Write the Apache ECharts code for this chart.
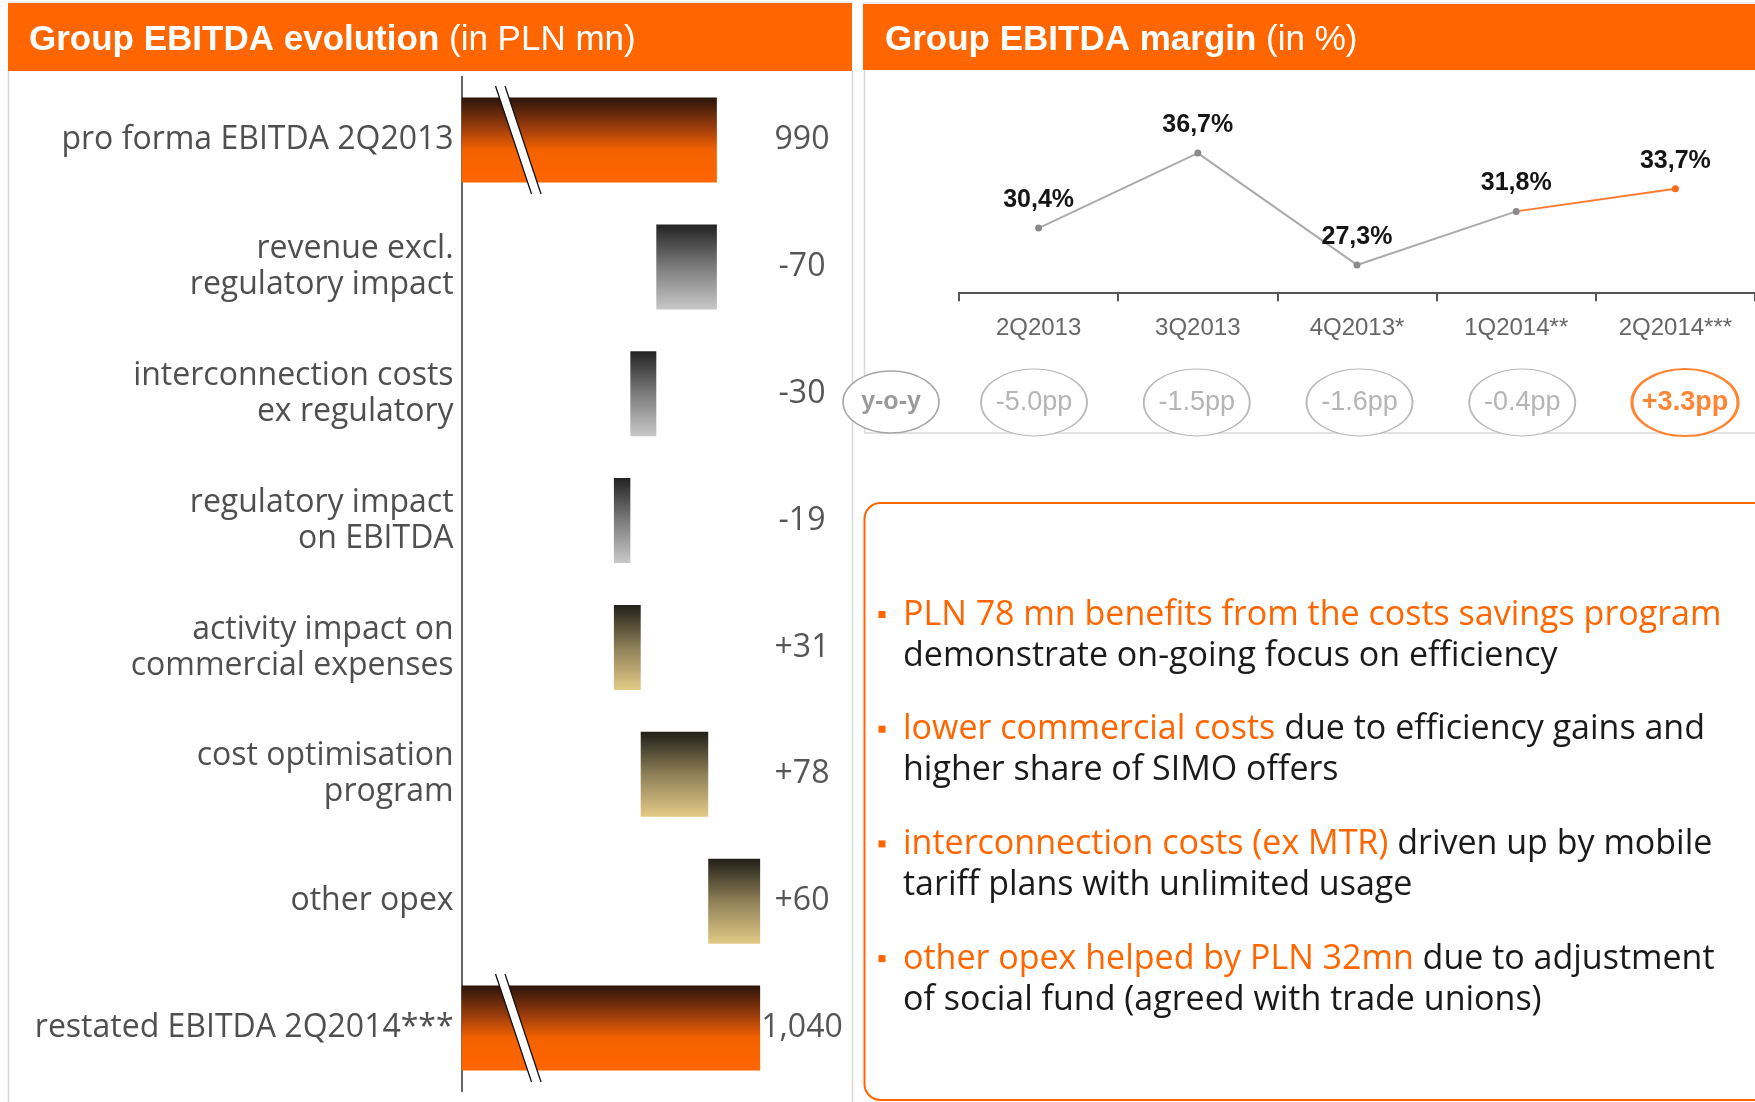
<!DOCTYPE html>
<html>
<head>
<meta charset="utf-8">
<script src="https://cdn.jsdelivr.net/npm/echarts@6/dist/echarts.min.js"></script>
<style>
  html, body { margin: 0; padding: 0; background: #fff; }
  #main { width: 1755px; height: 1102px; }
</style>
</head>
<body>
<div id="main"></div>
<script>
// waterfall data (PLN mn)
var steps = ['pro forma EBITDA 2Q2013', 'revenue excl.\nregulatory impact', 'interconnection costs\nex regulatory',
  'regulatory impact\non EBITDA', 'activity impact on\ncommercial expenses', 'cost optimisation\nprogram',
  'other opex', 'restated EBITDA 2Q2014***'];
var stepValues = [990, -70, -30, -19, 31, 78, 60, 1040];
var stepLabels = ['990', '-70', '-30', '-19', '+31', '+78', '+60', '1,040'];
var isTotal = [true, false, false, false, false, false, false, true];

// margin data (%)
var quarters = ['2Q2013', '3Q2013', '4Q2013*', '1Q2014**', '2Q2014***'];
var margins = [30.4, 36.7, 27.3, 31.8, 33.7];
var yoy = [-5.0, -1.5, -1.6, -0.4, 3.3];

var notes = [
  ['PLN 78 mn benefits from the costs savings program', '', 'demonstrate on-going focus on efficiency'],
  ['lower commercial costs', ' due to efficiency gains and', 'higher share of SIMO offers'],
  ['interconnection costs (ex MTR)', ' driven up by mobile', 'tariff plans with unlimited usage'],
  ['other opex helped by PLN 32mn', ' due to adjustment', 'of social fund (agreed with trade unions)']
];

var ORANGE = '#ff6600';
var breakAt = 755; // where the axis break is drawn on the total bars
var lastHighlight = 3; // orange segment starts here

function grad(stops) {
  return new echarts.graphic.LinearGradient(0, 0, 0, 1, stops.map(function (s) {
    return { offset: s[0], color: s[1] };
  }));
}
var totalGrad = [[0, '#2a1409'], [0.35, '#9a3c0c'], [0.62, '#f46200'], [1, '#ff6600']];
var negGrad = [[0, '#222222'], [0.5, '#7c7c7c'], [1, '#c8c8c8']];
var posGrad = [[0, '#211f18'], [0.5, '#8e7f57'], [1, '#e3ca86']];

// build waterfall stacks
var base = [], size = [], running = 0;
stepValues.forEach(function (v, i) {
  if (isTotal[i]) {
    base.push(0); size.push(v); running = v;
  } else {
    var next = running + v;
    base.push(Math.min(running, next));
    size.push(Math.abs(v));
    running = next;
  }
});

var chart = echarts.init(document.getElementById('main'), null, { renderer: 'canvas' });

var titleRich = {
  b: { fontSize: 35, fontWeight: 'bold', fill: '#fff', fontFamily: 'Liberation Sans' },
  n: { fontSize: 35, fill: '#fff', fontFamily: 'Liberation Sans' }
};

var graphics = [
  // headers
  { type: 'rect', shape: { x: 8, y: 3, width: 844, height: 68 }, style: { fill: ORANGE }, z: 1 },
  { type: 'rect', shape: { x: 863, y: 4, width: 900, height: 66 }, style: { fill: ORANGE }, z: 1 },
  { type: 'line', shape: { x1: 8, y1: 2, x2: 852, y2: 2 }, style: { stroke: '#dddddd', lineWidth: 1 } },
  { type: 'line', shape: { x1: 863, y1: 3, x2: 1755, y2: 3 }, style: { stroke: '#dddddd', lineWidth: 1 } },
  {
    type: 'text', x: 29, y: 40, z: 2,
    style: { text: '{b|Group EBITDA evolution}{n| (in PLN mn)}', verticalAlign: 'middle', rich: titleRich }
  },
  {
    type: 'text', x: 885, y: 40, z: 2,
    style: { text: '{b|Group EBITDA margin}{n| (in %)}', verticalAlign: 'middle', rich: titleRich }
  },
  // panel borders
  { type: 'line', shape: { x1: 8.5, y1: 71, x2: 8.5, y2: 1102 }, style: { stroke: '#d9d9d9', lineWidth: 1.5 } },
  { type: 'line', shape: { x1: 852.5, y1: 71, x2: 852.5, y2: 1102 }, style: { stroke: '#d9d9d9', lineWidth: 1.5 } },
  { type: 'line', shape: { x1: 864.5, y1: 70, x2: 864.5, y2: 433 }, style: { stroke: '#d9d9d9', lineWidth: 1.5 } },
  { type: 'line', shape: { x1: 864, y1: 433, x2: 1755, y2: 433 }, style: { stroke: '#d9d9d9', lineWidth: 1.5 } },
  // y-o-y marker
  { type: 'ellipse', shape: { cx: 891, cy: 402, rx: 48, ry: 31 }, style: { fill: '#fff', stroke: '#a6a6a6', lineWidth: 1.5 }, z: 3 },
  {
    type: 'text', x: 891, y: 402, z: 4,
    style: { text: 'y-o-y', fontSize: 25, fontWeight: 'bold', fill: '#9a9a9a', fontFamily: 'Liberation Sans', align: 'center', verticalAlign: 'middle' }
  },
  // comment box
  { type: 'rect', shape: { x: 864.5, y: 503, width: 920, height: 597, r: 16 }, style: { fill: 'none', stroke: ORANGE, lineWidth: 2 } }
];

notes.forEach(function (n, i) {
  var cy = 615 + i * 114.7;
  graphics.push({ type: 'rect', shape: { x: 878.5, y: cy - 4, width: 7, height: 7 }, style: { fill: ORANGE } });
  var txt = '{o|' + n[0] + '}' + (n[1] ? '{k|' + n[1] + '}' : '') + '\n{k|' + n[2] + '}';
  graphics.push({
    type: 'text', x: 903, y: cy - 20.5,
    style: {
      text: txt, verticalAlign: 'top',
      rich: {
        o: { fontSize: 34, fill: ORANGE, fontFamily: 'Open Sans', lineHeight: 41 },
        k: { fontSize: 34, fill: '#1a1a1a', fontFamily: 'Open Sans', lineHeight: 41 }
      }
    }
  });
});

function pctLabel(p) { return p.value.toFixed(1).replace('.', ',') + '%'; }

var option = {
  animation: false,
  backgroundColor: '#ffffff',
  grid: [
    { left: 461.6, right: 1755 - 851, top: 76.6, bottom: 1102 - 1091.4, containLabel: false, outerBoundsMode: 'none' },
    { left: 959, right: 0, top: 113.8, bottom: 1102 - 292.3, containLabel: false, outerBoundsMode: 'none' },
    { left: 1034, right: 70, top: 369, height: 67, containLabel: false, outerBoundsMode: 'none' }
  ],
  xAxis: [
    { type: 'value', gridIndex: 0, min: 695, max: 1145, show: false },
    {
      type: 'category', gridIndex: 1, data: quarters, boundaryGap: true,
      axisLine: { lineStyle: { color: '#555', width: 2 } },
      axisTick: { show: true, length: 9, lineStyle: { color: '#555', width: 2 } },
      axisLabel: { margin: 24, fontSize: 24, color: '#666', fontFamily: 'Liberation Sans' },
      splitLine: { show: false }
    },
    { type: 'category', gridIndex: 2, data: quarters, boundaryGap: false, show: false }
  ],
  yAxis: [
    {
      type: 'category', gridIndex: 0, inverse: true, data: steps,
      axisLine: { lineStyle: { color: '#333', width: 1.5 } },
      axisTick: { show: false },
      axisLabel: { margin: 8, fontSize: 32, lineHeight: 36, color: '#4f4f4f', fontFamily: 'Open Sans', align: 'right' },
      splitLine: { show: false }
    },
    {
      type: 'category', gridIndex: 0, inverse: true, position: 'right', data: stepLabels,
      axisLine: { show: false }, axisTick: { show: false },
      axisLabel: { margin: -49, align: 'center', fontSize: 32, color: '#555', fontFamily: 'Open Sans' },
      splitLine: { show: false }
    },
    { type: 'value', gridIndex: 1, min: 25, max: 40, show: false },
    { type: 'value', gridIndex: 2, min: -1, max: 1, show: false }
  ],
  series: [
    {
      type: 'bar', xAxisIndex: 0, yAxisIndex: 0, stack: 'wf', barWidth: 85, silent: true,
      itemStyle: { color: 'transparent' },
      data: base
    },
    {
      type: 'bar', xAxisIndex: 0, yAxisIndex: 0, stack: 'wf', barWidth: 85, silent: true,
      data: size.map(function (v, i) {
        var g = isTotal[i] ? totalGrad : (stepValues[i] < 0 ? negGrad : posGrad);
        return { value: v, itemStyle: { color: grad(g) } };
      })
    },
    {
      type: 'custom', xAxisIndex: 0, yAxisIndex: 0, z: 5, silent: true,
      data: isTotal.map(function (t, i) { return t ? [breakAt, i] : null; }).filter(Boolean),
      renderItem: function (params, api) {
        var p = api.coord([api.value(0), api.value(1)]);
        var h = 54, dx = 18, gap = 9.5;
        return {
          type: 'group',
          children: [
            { type: 'polygon', shape: { points: [[p[0] - dx, p[1] - h], [p[0] - dx + gap, p[1] - h], [p[0] + dx + gap, p[1] + h], [p[0] + dx, p[1] + h]] }, style: { fill: '#fff' } },
            { type: 'line', shape: { x1: p[0] - dx, y1: p[1] - h, x2: p[0] + dx, y2: p[1] + h }, style: { stroke: '#111', lineWidth: 1.3 } },
            { type: 'line', shape: { x1: p[0] - dx + gap, y1: p[1] - h, x2: p[0] + dx + gap, y2: p[1] + h }, style: { stroke: '#111', lineWidth: 1.3 } }
          ]
        };
      }
    },
    {
      type: 'line', xAxisIndex: 1, yAxisIndex: 2, z: 4, silent: true,
      data: margins.map(function (v, i) { return i <= lastHighlight ? v : '-'; }),
      lineStyle: { color: '#ababab', width: 2 },
      symbol: 'circle', symbolSize: 7,
      itemStyle: { color: '#8a8a8a' },
      label: {
        show: true, position: 'top', distance: 12, fontSize: 25, fontWeight: 'bold', color: '#151515', fontFamily: 'Liberation Sans',
        formatter: pctLabel
      }
    },
    {
      type: 'line', xAxisIndex: 1, yAxisIndex: 2, z: 3, silent: true,
      data: margins.map(function (v, i) {
        if (i < lastHighlight) return '-';
        if (i === lastHighlight) return { value: v, symbol: 'none', label: { show: false } };
        return v;
      }),
      lineStyle: { color: '#ff7a33', width: 2 },
      symbol: 'circle', symbolSize: 7,
      itemStyle: { color: '#ff6a1a' },
      label: {
        show: true, position: 'top', distance: 12, fontSize: 25, fontWeight: 'bold', color: '#151515', fontFamily: 'Liberation Sans',
        formatter: pctLabel
      }
    },
    {
      type: 'scatter', xAxisIndex: 2, yAxisIndex: 3, silent: true, z: 3,
      symbol: 'circle', symbolSize: [106, 67],
      data: yoy.map(function (v, i) {
        var up = v > 0;
        return {
          value: [i, 0], change: v,
          itemStyle: { color: '#fff', borderColor: up ? ORANGE : '#a6a6a6', borderWidth: up ? 2.5 : 1.5 },
          label: { color: up ? ORANGE : '#a3a3a3', fontWeight: up ? 'bold' : 'normal' }
        };
      }),
      label: {
        show: true, position: 'inside', fontSize: 27, fontFamily: 'Liberation Sans',
        formatter: function (p) {
          var v = p.data.change;
          return (v > 0 ? '+' : '') + v.toFixed(1) + 'pp';
        }
      }
    }
  ],
  graphic: graphics
};

chart.setOption(option);
</script>
</body>
</html>
